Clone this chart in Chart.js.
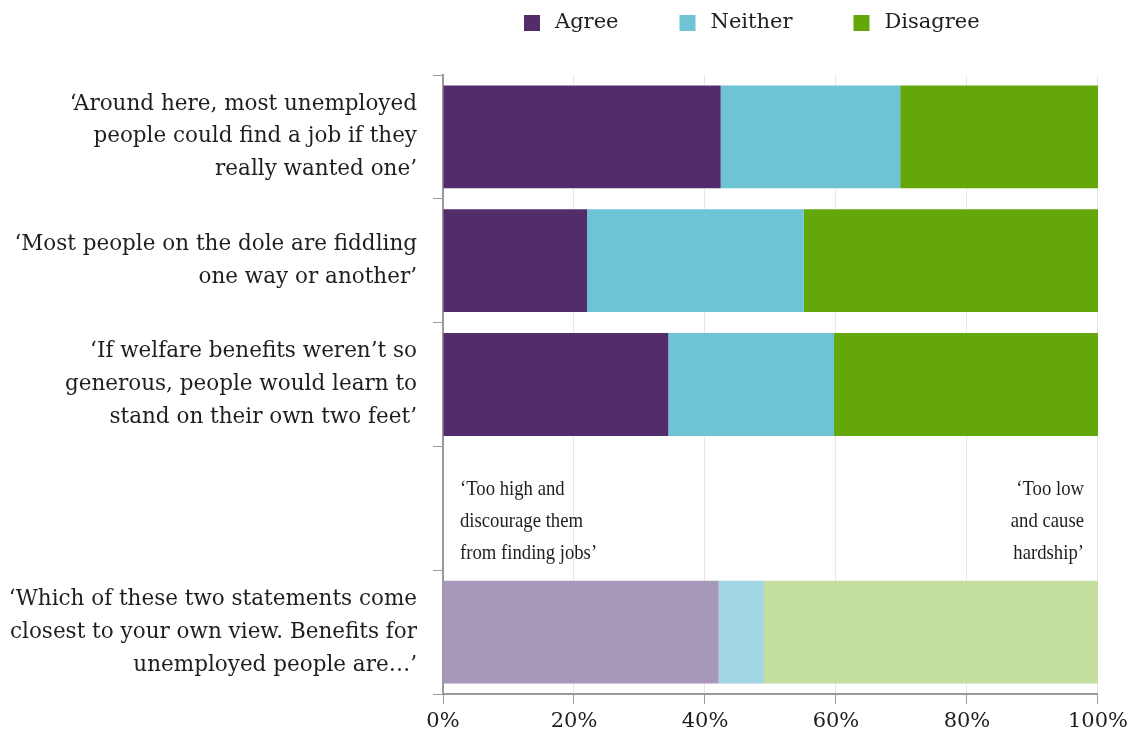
<!DOCTYPE html>
<html>
<head>
<meta charset="utf-8">
<script src="https://cdn.jsdelivr.net/npm/chart.js@4.4.0/dist/chart.umd.min.js"></script>
<style>
  html, body { margin: 0; padding: 0; background: #fff; }
  #wrap { width: 1133px; height: 740px; }
</style>
</head>
<body>
<div id="wrap"><canvas id="chart"></canvas></div>
<script>
// statements (the 4th slot is empty, it holds the two answer notes)
const statements = [
  ["‘Around here, most unemployed", "people could find a job if they", "really wanted one’"],
  ["‘Most people on the dole are fiddling", "one way or another’"],
  ["‘If welfare benefits weren’t so", "generous, people would learn to", "stand on their own two feet’"],
  "",
  ["‘Which of these two statements come", "closest to your own view. Benefits for", "unemployed people are…’"]
];
const seriesNames = ["Agree", "Neither", "Disagree"];
const agree = [42.4, 22.0, 34.4, null, 42.1];
const neither = [27.4, 33.1, 25.3, null, 6.9];
const disagree = [30.2, 44.9, 40.3, null, 51.0];
const noteLeft = ["‘Too high and", "discourage them", "from finding jobs’"];
const noteRight = ["‘Too low", "and cause", "hardship’"];

const darkColours = ["#532c6c", "#6ec3d5", "#64a70b"];
const lightColours = ["#a797b8", "#a0d7e3", "#c3de9d"];

// last bar uses the pale shades
function shades(i) {
  return statements.map((s, k) => (k === 4 ? lightColours[i] : darkColours[i]));
}

const textColour = "#1e1e1e";
Chart.defaults.font.family = "'DejaVu Serif', serif";
Chart.defaults.font.size = 20;
Chart.defaults.color = textColour;

const legendPlugin = {
  id: "topLegend",
  afterDraw(chart) {
    const ctx = chart.ctx;
    ctx.save();
    ctx.font = "21px 'DejaVu Serif'";
    ctx.textBaseline = "middle";
    ctx.textAlign = "left";
    let x = 524;
    chart.data.datasets.forEach((ds, i) => {
      ctx.fillStyle = darkColours[i];
      ctx.fillRect(x, 15, 16, 16);
      ctx.fillStyle = textColour;
      ctx.fillText(ds.label, x + 31, 23);
      x += 31 + ctx.measureText(ds.label).width + 61;
    });
    ctx.restore();
  }
};

const notesPlugin = {
  id: "answerNotes",
  afterDraw(chart) {
    const ctx = chart.ctx;
    const xs = chart.scales.x, ys = chart.scales.y;
    const yc = ys.getPixelForValue(3) + 13;
    const left = xs.getPixelForValue(0) + 17;
    const right = xs.getPixelForValue(100) - 14;
    ctx.save();
    ctx.font = "22px 'Liberation Serif'";
    ctx.textBaseline = "middle";
    ctx.fillStyle = textColour;
    noteLeft.forEach((t, i) => {
      ctx.save();
      ctx.translate(left, yc + (i - 1) * 32);
      ctx.scale(0.85, 1);
      ctx.textAlign = "left";
      ctx.fillText(t, 0, 0);
      ctx.restore();
    });
    noteRight.forEach((t, i) => {
      ctx.save();
      ctx.translate(right, yc + (i - 1) * 32);
      ctx.scale(0.85, 1);
      ctx.textAlign = "right";
      ctx.fillText(t, 0, 0);
      ctx.restore();
    });
    ctx.restore();
  }
};

new Chart(document.getElementById("chart"), {
  type: "bar",
  data: {
    labels: statements,
    datasets: [
      { label: seriesNames[0], data: agree, backgroundColor: shades(0) },
      { label: seriesNames[1], data: neither, backgroundColor: shades(1) },
      { label: seriesNames[2], data: disagree, backgroundColor: shades(2) }
    ]
  },
  options: {
    indexAxis: "y",
    responsive: true,
    maintainAspectRatio: false,
    animation: false,
    layout: { padding: { top: 75, right: 35, left: 0, bottom: 0 } },
    datasets: { bar: { barPercentage: 0.83, categoryPercentage: 1 } },
    scales: {
      x: {
        stacked: true,
        min: 0,
        max: 100,
        ticks: { stepSize: 20, padding: 5, callback: v => v + "%", font: { size: 21 } },
        grid: { color: "#e8e8e8", tickColor: "#9a9a9a", tickLength: 10 },
        border: { color: "#9a9a9a", width: 2 },
        afterFit: s => { s.height = 46; }
      },
      y: {
        stacked: true,
        ticks: { padding: 16, font: { size: 21.5, lineHeight: 1.53 } },
        grid: { drawOnChartArea: false, tickColor: "#9a9a9a", tickLength: 10, offset: true },
        border: { color: "#9a9a9a", width: 2 },
        afterFit: s => { s.width = 443; s.paddingTop = 0; s.paddingBottom = 0; }
      }
    },
    plugins: {
      legend: { display: false },
      tooltip: { enabled: false }
    }
  },
  plugins: [legendPlugin, notesPlugin]
});
</script>
</body>
</html>
